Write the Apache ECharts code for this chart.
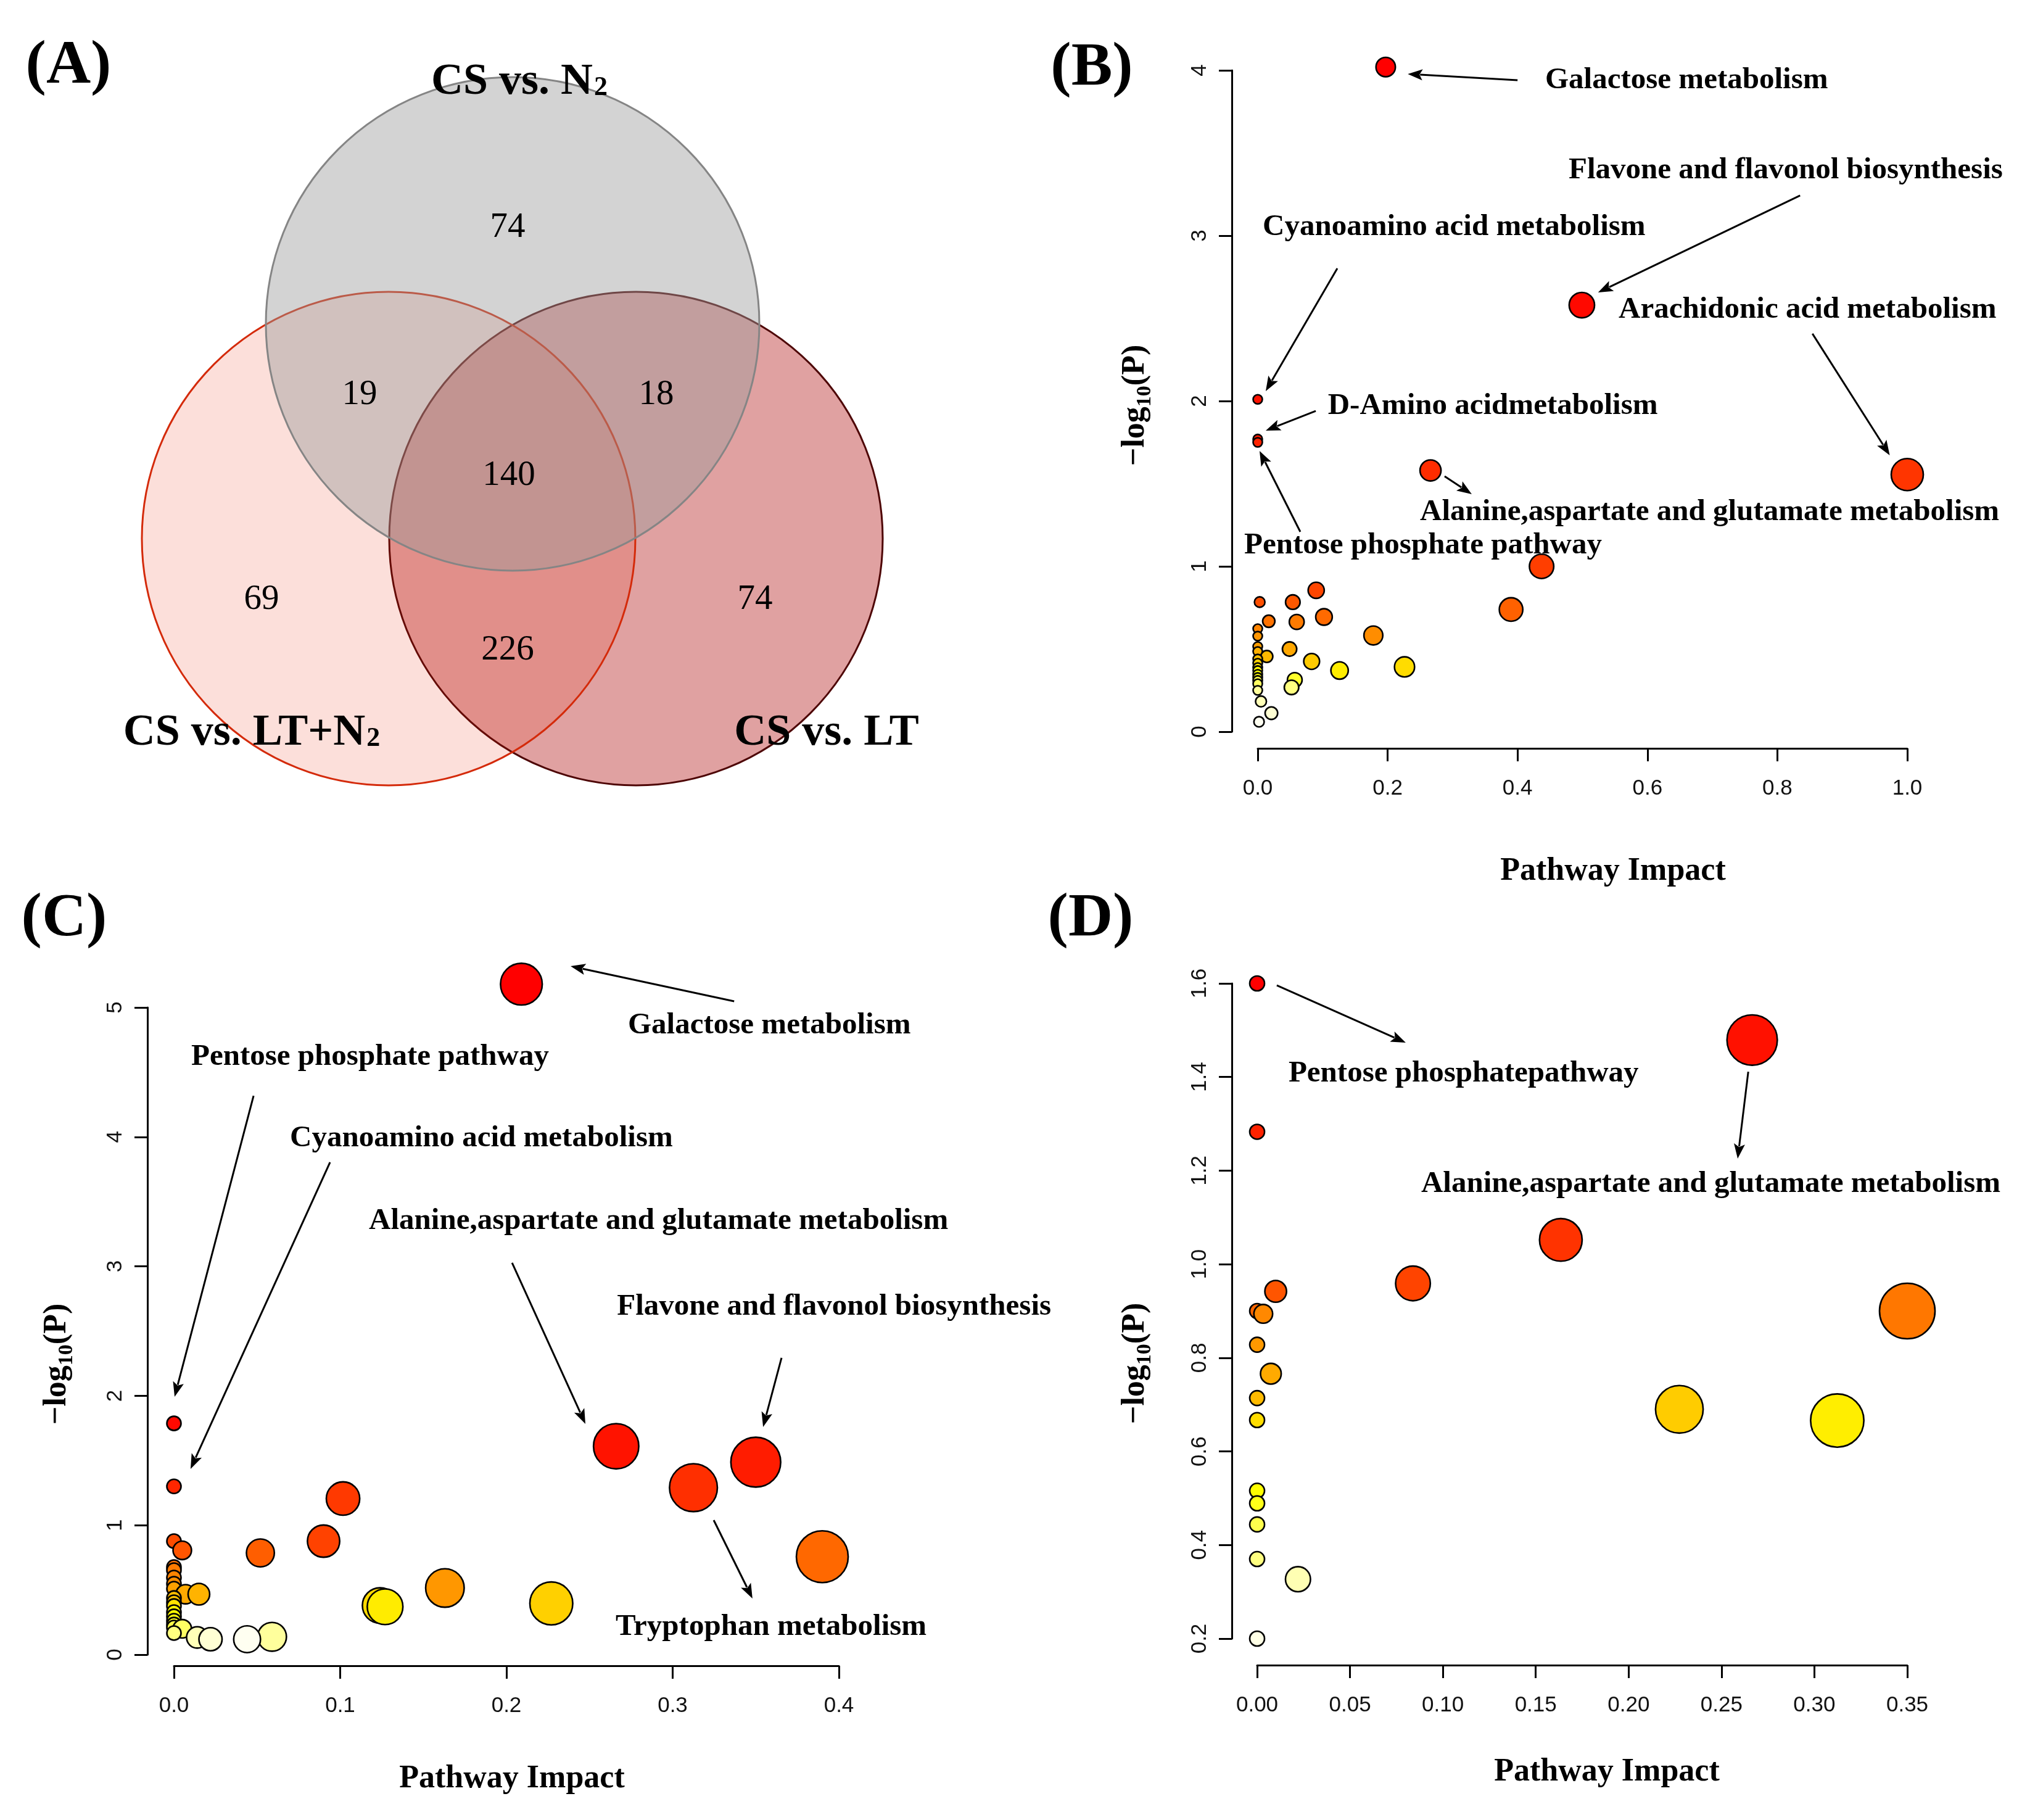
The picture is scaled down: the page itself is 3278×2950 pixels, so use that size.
<!DOCTYPE html>
<html><head><meta charset="utf-8">
<script src="https://cdn.jsdelivr.net/npm/echarts@6/dist/echarts.min.js"></script>
<style>html,body{margin:0;padding:0;background:#fff}#c{width:3278px;height:2950px}</style>
</head><body><div id="c"></div>
<script>
// ---------------- DATA ----------------
// Venn (panel A)
const vennSetNames = ['CS vs. N', 'CS vs. LT+N', 'CS vs. LT']; // subscript 2 added for N
const vennRegionNames = ['N2 only', 'N2 & LT+N2', 'N2 & LT', 'all three', 'LT+N2 only', 'LT+N2 & LT', 'LT only'];
const vennCounts = [74, 19, 18, 140, 69, 226, 74];

// Panel B
const bImpact = [0.197, 0.499, 1.0, 0.266, 0.437, 0.390, 0.0, 0.0, 0.0, 0.090, 0.003, 0.054, 0.017, 0.060, 0.102, 0.178,
  0.0, 0.0, 0.0, 0.0, 0.014, 0.049, 0.083, 0.126, 0.226, 0.057, 0.052,
  0.0, 0.0, 0.0, 0.0, 0.0, 0.0, 0.0, 0.0, 0.0, 0.005, 0.021, 0.002];
const bLogP = [4.02, 2.58, 1.555, 1.58, 1.0, 0.739, 2.01, 1.77, 1.75, 0.855, 0.784, 0.784, 0.668, 0.664, 0.694, 0.582,
  0.623, 0.578, 0.515, 0.485, 0.455, 0.50, 0.425, 0.37, 0.392, 0.313, 0.268,
  0.44, 0.414, 0.388, 0.37, 0.347, 0.328, 0.31, 0.29, 0.25, 0.183, 0.112, 0.06];

// Panel C
const cImpact = [0.209, 0.266, 0.3125, 0.350, 0.390, 0.227, 0.163, 0.124, 0.127, 0.1017, 0.090, 0.052, 0.0, 0.0, 0.0, 0.005,
  0.0, 0.0, 0.0, 0.0, 0.0, 0.0, 0.0, 0.0, 0.0, 0.0, 0.0, 0.0, 0.0, 0.0,
  0.007, 0.015, 0.005, 0.014, 0.022, 0.044, 0.059];
const cLogP = [5.18, 1.61, 1.29, 1.487, 0.757, 0.396, 0.515, 0.38, 0.37, 1.206, 0.877, 0.786, 1.787, 1.30, 0.877, 0.806,
  0.677, 0.653, 0.596, 0.548, 0.51, 0.438, 0.405, 0.376, 0.329, 0.296, 0.262, 0.233, 0.21, 0.167,
  0.467, 0.467, 0.2, 0.133, 0.119, 0.119, 0.138];

// Panel D
const dImpact = [0.0, 0.0, 0.2665, 0.1635, 0.0839, 0.010, 0.0, 0.0033, 0.0, 0.0074, 0.0, 0.0, 0.35, 0.2273, 0.3123,
  0.0, 0.0, 0.0, 0.0, 0.022, 0.0];
const dLogP = [1.6, 1.283, 1.479, 1.052, 0.959, 0.942, 0.90, 0.894, 0.828, 0.766, 0.714, 0.667, 0.90, 0.69, 0.666,
  0.516, 0.489, 0.444, 0.37, 0.327, 0.2];

// Tick settings
const bXTicks = {min: 0, max: 1.0, step: 0.2, dec: 1};
const bYTicks = {min: 0, max: 4, step: 1, dec: 0};
const cXTicks = {min: 0, max: 0.4, step: 0.1, dec: 1};
const cYTicks = {min: 0, max: 5, step: 1, dec: 0};
const dXTicks = {min: 0, max: 0.35, step: 0.05, dec: 2};
const dYTicks = {min: 0.2, max: 1.6, step: 0.2, dec: 1};

// Annotations (in data units of each panel)
const bNotes = [
  {text: 'Galactose metabolism', at: [0.4425, 3.94], from: [0.400, 3.94], to: [0.231, 3.978]},
  {text: 'Flavone and flavonol biosynthesis', at: [0.4786, 3.396], from: [0.835, 3.243], to: [0.524, 2.657]},
  {text: 'Arachidonic acid metabolism', at: [0.5556, 2.552], from: [0.854, 2.407], to: [0.973, 1.672]},
  {text: 'Cyanoamino acid metabolism', at: [0.0076, 3.052], from: [0.1225, 2.802], to: [0.0123, 2.06]},
  {text: 'D-Amino acidmetabolism', at: [0.108, 1.97], from: [0.0893, 1.94], to: [0.0123, 1.821]},
  {text: 'Alanine,aspartate and glutamate metabolism', at: [0.2498, 1.328], from: [0.2877, 1.545], to: [0.3295, 1.437]},
  {text: 'Pentose phosphate pathway', at: [-0.0209, 1.127], from: [0.0655, 1.209], to: [0.0028, 1.698]}
];
const cNotes = [
  {text: 'Galactose metabolism', at: [0.2731, 4.862], from: [0.337, 5.048], to: [0.2386, 5.319]},
  {text: 'Pentose phosphate pathway', at: [0.0104, 4.619], from: [0.0479, 4.318], to: [0.0004, 1.992]},
  {text: 'Cyanoamino acid metabolism', at: [0.0698, 3.99], from: [0.0939, 3.804], to: [0.0100, 1.435]},
  {text: 'Alanine,aspartate and glutamate metabolism', at: [0.1173, 3.351], from: [0.2034, 3.027], to: [0.2475, 1.783]},
  {text: 'Flavone and flavonol biosynthesis', at: [0.2665, 2.689], from: [0.3655, 2.293], to: [0.3544, 1.759]},
  {text: 'Tryptophan metabolism', at: [0.2657, 0.214], from: [0.3247, 1.039], to: [0.348, 0.434]}
];
const dNotes = [
  {text: 'Pentose phosphatepathway', at: [0.0169, 1.4075], from: [0.0106, 1.596], to: [0.080, 1.4734]},
  {text: 'Alanine,aspartate and glutamate metabolism', at: [0.0883, 1.1715], from: [0.2644, 1.4114], to: [0.2587, 1.2256]}
];

// ---------------- HELPERS ----------------
function hsvHex(h, s, v) {
  const f = h * 6;
  const r = v, g = v * (1 - s * (1 - f)), b = v * (1 - s);
  const t = x => Math.round(x * 255).toString(16).padStart(2, '0');
  return '#' + t(r) + t(g) + t(b);
}
function heatColors(n) {
  const j = Math.floor(n / 4), i = n - j, out = [];
  for (let k = 0; k < i; k++) out.push(hsvHex(i > 1 ? k / (i - 1) / 6 : 0, 1, 1));
  const s0 = 1 - 1 / (2 * j), s1 = 1 / (2 * j);
  for (let k = 0; k < j; k++) out.push(hsvHex(1 / 6, j > 1 ? s0 + (s1 - s0) * k / (j - 1) : s0, 1));
  return out;
}
const SERIF = '"Liberation Serif","Times New Roman",serif';
const SANS = '"Liberation Sans",Arial,sans-serif';

function buildSeries(impact, logP, idx, rmin, rmax) {
  const n = impact.length, cols = heatColors(n);
  const order = impact.map((_, k) => k).sort((a, b) => logP[b] - logP[a]);
  const xmax = Math.max.apply(null, impact);
  const data = order.map((k, rank) => ({value: [impact[k], logP[k]], itemStyle: {color: cols[rank]}}));
  return {
    type: 'scatter', xAxisIndex: idx, yAxisIndex: idx, data: data, clip: false, symbol: 'circle',
    symbolSize: v => 2 * (rmin + (rmax - rmin) * Math.sqrt(v[0] / xmax)),
    itemStyle: {borderColor: '#000', borderWidth: 2.6, opacity: 1},
    emphasis: {disabled: true}, silent: true
  };
}
function axis(t, idx, offset, isY) {
  return {
    type: 'value', gridIndex: idx, min: t.min, max: t.max, interval: t.step, offset: offset,
    position: isY ? 'left' : 'bottom',
    axisLine: {show: true, onZero: false, lineStyle: {color: '#000', width: 3}},
    axisTick: {show: true, length: 21, lineStyle: {color: '#000', width: 3}},
    splitLine: {show: false},
    axisLabel: {
      fontFamily: SANS, fontSize: 35, color: '#111', rotate: isY ? 90 : 0, margin: isY ? 34 : 48,
      formatter: v => (+v).toFixed(t.dec), showMinLabel: true, showMaxLabel: true
    }
  };
}

// ---------------- CHART ----------------
const chart = echarts.init(document.getElementById('c'), null, {renderer: 'canvas', width: 3278, height: 2950});
chart.setOption({
  animation: false,
  backgroundColor: '#fff',
  grid: [
    {left: 2039, top: 114, width: 1053, height: 1072},
    {left: 282, top: 1633, width: 1078, height: 1049},
    {left: 2038, top: 1594, width: 1054, height: 1062}
  ],
  xAxis: [axis(bXTicks, 0, 27, false), axis(cXTicks, 1, 18, false), axis(dXTicks, 2, 43, false)],
  yAxis: [axis(bYTicks, 0, 42, true), axis(cYTicks, 1, 43, true), axis(dYTicks, 2, 41, true)],
  series: [
    buildSeries(bImpact, bLogP, 0, 7.5, 26),
    buildSeries(cImpact, cLogP, 1, 11.5, 42),
    buildSeries(dImpact, dLogP, 2, 12, 45)
  ]
});

const G = [];
function txt(x, y, text, font, align, extra) {
  const el = {type: 'text', x: x, y: y, z: 100, silent: true,
    style: Object.assign({text: text, font: font, fill: '#000', textAlign: align || 'center', textVerticalAlign: 'middle',
      align: align || 'center', verticalAlign: 'middle'}, extra || {})};
  G.push(el);
  return el;
}
function arrow(p1, p2) {
  const dx = p2[0] - p1[0], dy = p2[1] - p1[1], len = Math.hypot(dx, dy);
  const ux = dx / len, uy = dy / len, L = 24, W = 9;
  const bx = p2[0] - ux * L, by = p2[1] - uy * L;
  G.push({type: 'line', z: 90, silent: true, shape: {x1: p1[0], y1: p1[1], x2: bx + ux * 4, y2: by + uy * 4},
    style: {stroke: '#000', lineWidth: 3}});
  G.push({type: 'polygon', z: 90, silent: true,
    shape: {points: [[p2[0], p2[1]], [bx - uy * W, by + ux * W], [bx + ux * 5, by + uy * 5], [bx + uy * W, by - ux * W]]},
    style: {fill: '#000'}});
}
function addNotes(list, gi) {
  list.forEach(a => {
    const p = chart.convertToPixel({gridIndex: gi}, a.at);
    txt(p[0], p[1], a.text, 'bold 49px ' + SERIF, 'left');
    if (a.from) arrow(chart.convertToPixel({gridIndex: gi}, a.from), chart.convertToPixel({gridIndex: gi}, a.to));
  });
}
addNotes(bNotes, 0);
addNotes(cNotes, 1);
addNotes(dNotes, 2);

// Axis titles
txt(2615, 1413, 'Pathway Impact', 'bold 52px ' + SERIF);
txt(830, 2884, 'Pathway Impact', 'bold 52px ' + SERIF);
txt(2605, 2873, 'Pathway Impact', 'bold 52px ' + SERIF);
function ylab(x, y) {
  G.push({type: 'text', x: x, y: y, rotation: Math.PI / 2, z: 100, silent: true,
    style: {text: '{t|\u2212log}{s|10}{t|(P)}', textAlign: 'center', textVerticalAlign: 'middle', align: 'center', verticalAlign: 'middle',
      rich: {t: {font: 'bold 52px ' + SERIF, fill: '#000', lineHeight: 64},
             s: {font: 'bold 34px ' + SERIF, fill: '#000', lineHeight: 30, verticalAlign: 'bottom'}}}});
}
ylab(1841, 657);
ylab(93, 2211);
ylab(1841, 2210);

// Panel letters
txt(111, 108, '(A)', 'bold 100px ' + SERIF);
txt(1770, 111, '(B)', 'bold 100px ' + SERIF);
txt(104, 1490, '(C)', 'bold 100px ' + SERIF);
txt(1768, 1490, '(D)', 'bold 100px ' + SERIF);

// Venn circles
const R = 400;
G.push({type: 'circle', z: 10, silent: true, shape: {cx: 1031, cy: 873, r: R}, style: {fill: 'rgba(170,0,0,0.37)', stroke: '#4e0606', lineWidth: 3}});
G.push({type: 'circle', z: 11, silent: true, shape: {cx: 630, cy: 873, r: R}, style: {fill: 'rgba(235,40,10,0.15)', stroke: '#d42a0a', lineWidth: 3}});
G.push({type: 'circle', z: 12, silent: true, shape: {cx: 831, cy: 525, r: R}, style: {fill: 'rgba(155,155,155,0.44)', stroke: '#858585', lineWidth: 3}});
// Venn counts
const vennPos = [[823, 369], [583, 640], [1064, 640], [825, 771], [424, 972], [823, 1054], [1224, 972]];
vennCounts.forEach((v, k) => txt(vennPos[k][0], vennPos[k][1], String(v), '57px ' + SERIF));
// Venn set labels
function setLab(x, y, name, sub) {
  G.push({type: 'text', x: x, y: y, z: 100, silent: true,
    style: {text: '{b|' + name + '}' + (sub ? '{s|2}' : ''), textAlign: 'center', textVerticalAlign: 'middle', align: 'center', verticalAlign: 'middle',
      rich: {b: {font: 'bold 72px ' + SERIF, fill: '#000', lineHeight: 84},
             s: {font: 'bold 44px ' + SERIF, fill: '#000', lineHeight: 50, padding: [20, 0, 0, 2]}}}});
}
setLab(842, 133, vennSetNames[0], true);
setLab(408, 1188, vennSetNames[1], true);
setLab(1340, 1188, vennSetNames[2], false);

chart.setOption({graphic: {elements: G}});
</script></body></html>
